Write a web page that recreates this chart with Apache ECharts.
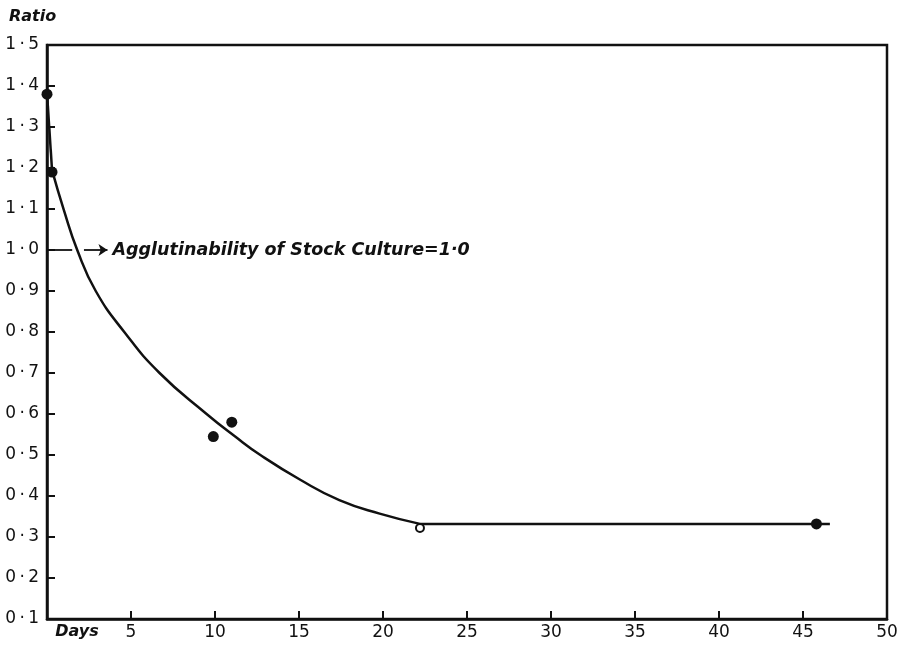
<!DOCTYPE html>
<html>
<head>
<meta charset="utf-8">
<script src="https://cdn.jsdelivr.net/npm/echarts@6/dist/echarts.min.js"></script>
<style>
  html, body { margin: 0; padding: 0; background: #fff; }
  #chart { width: 906px; height: 648px; }
</style>
</head>
<body>
<div id="chart"></div>
<script>
// observed points (filled)
var obsDays = [0, 0.3, 9.9, 11.0, 45.8];
var obsRatio = [1.38, 1.19, 0.545, 0.58, 0.332];
// open circle point
var openDays = [22.2];
var openRatio = [0.322];
// steep first stretch of the curve
var headDays = [0, 0.3];
var headRatio = [1.383, 1.195];
// fitted curve
var curveDays = [0.3, 1.0, 1.8, 2.9, 4.6, 6.7, 9.5, 11.2, 12.7, 15.1, 17.4, 19.8, 22.2];
var curveRatio = [1.195, 1.098, 1.0, 0.9, 0.8, 0.7, 0.6, 0.545, 0.5, 0.439, 0.39, 0.357, 0.332];
// flat tail of the curve
var tailDays = [22.2, 46.6];
var tailRatio = [0.332, 0.332];
// stock culture reference
var stockDays = [0, 1.5];
var stockRatio = [1.0, 1.0];
var arrowDays = [2.2, 3.6];
var noteText = 'Agglutinability of Stock Culture=1\u00b70';

function pairs(xs, ys) {
    return xs.map(function (x, i) { return [x, ys[i]]; });
}

var font = 'DejaVu Sans';
var ink = '#111';
var chart = echarts.init(document.getElementById('chart'));

function curveLine(name, xs, ys, smooth) {
    return {
        name: name,
        type: 'line',
        data: pairs(xs, ys),
        smooth: smooth,
        symbol: 'none',
        lineStyle: { color: ink, width: 2.5 },
        z: 2
    };
}

var option = {
    animation: false,
    backgroundColor: '#fff',
    title: {
        text: 'Ratio',
        left: 4,
        top: 4,
        textStyle: { fontFamily: font, fontSize: 16, fontStyle: 'italic', fontWeight: 'bold', color: ink }
    },
    grid: {
        left: 47, right: 19, top: 45, bottom: 29,
        show: true, borderColor: ink, borderWidth: 2.5, backgroundColor: 'transparent'
    },
    xAxis: {
        type: 'value',
        min: 0, max: 50, interval: 5,
        axisLine: { lineStyle: { color: ink, width: 2.5 } },
        axisTick: { inside: true, length: 8, lineStyle: { color: ink, width: 2 } },
        splitLine: { show: false },
        axisLabel: {
            fontFamily: font, fontSize: 17, color: ink, margin: 5,
            formatter: function (v) { return v === 0 ? '{d|Days}' : String(v); },
            rich: {
                d: { fontFamily: font, fontSize: 16, fontStyle: 'italic', fontWeight: 'bold', color: ink, padding: [0, 0, 0, 60] }
            }
        }
    },
    yAxis: {
        type: 'value',
        min: 0.1, max: 1.5, interval: 0.1,
        axisLine: { lineStyle: { color: ink, width: 2.5 } },
        axisTick: { inside: true, length: 8, lineStyle: { color: ink, width: 2 } },
        splitLine: { show: false },
        axisLabel: {
            fontFamily: font, fontSize: 17, color: ink, margin: 8,
            formatter: function (v) { return v.toFixed(1).replace('.', '\u2009\u00b7\u2009'); }
        }
    },
    series: [
        curveLine('head', headDays, headRatio, false),
        curveLine('curve', curveDays, curveRatio, 0.5),
        curveLine('tail', tailDays, tailRatio, false),
        {
            name: 'stock',
            type: 'line',
            data: pairs(stockDays, stockRatio),
            symbol: 'none',
            lineStyle: { color: ink, width: 1.8 },
            markLine: {
                silent: true,
                symbol: ['none', 'arrow'],
                symbolSize: 9,
                label: { show: false },
                lineStyle: { color: ink, width: 1.8, type: 'solid' },
                data: [[
                    { coord: [arrowDays[0], stockRatio[0]] },
                    { coord: [arrowDays[1], stockRatio[1]] }
                ]]
            },
            z: 2
        },
        {
            name: 'note',
            type: 'scatter',
            data: [[3.9, 1.0]],
            symbolSize: 0,
            itemStyle: { opacity: 1 },
            label: {
                show: true, position: 'right', distance: 0,
                formatter: noteText,
                fontFamily: font, fontSize: 17.5, fontStyle: 'italic', fontWeight: 'bold', color: ink
            },
            z: 3
        },
        {
            name: 'observed',
            type: 'scatter',
            data: pairs(obsDays, obsRatio),
            symbol: 'circle',
            symbolSize: 11,
            itemStyle: { color: ink, opacity: 1 },
            z: 4
        },
        {
            name: 'open',
            type: 'scatter',
            data: pairs(openDays, openRatio),
            symbol: 'emptyCircle',
            symbolSize: 8,
            itemStyle: { color: ink, borderColor: ink, borderWidth: 2, opacity: 1 },
            z: 4
        }
    ]
};

chart.setOption(option);
</script>
</body>
</html>
